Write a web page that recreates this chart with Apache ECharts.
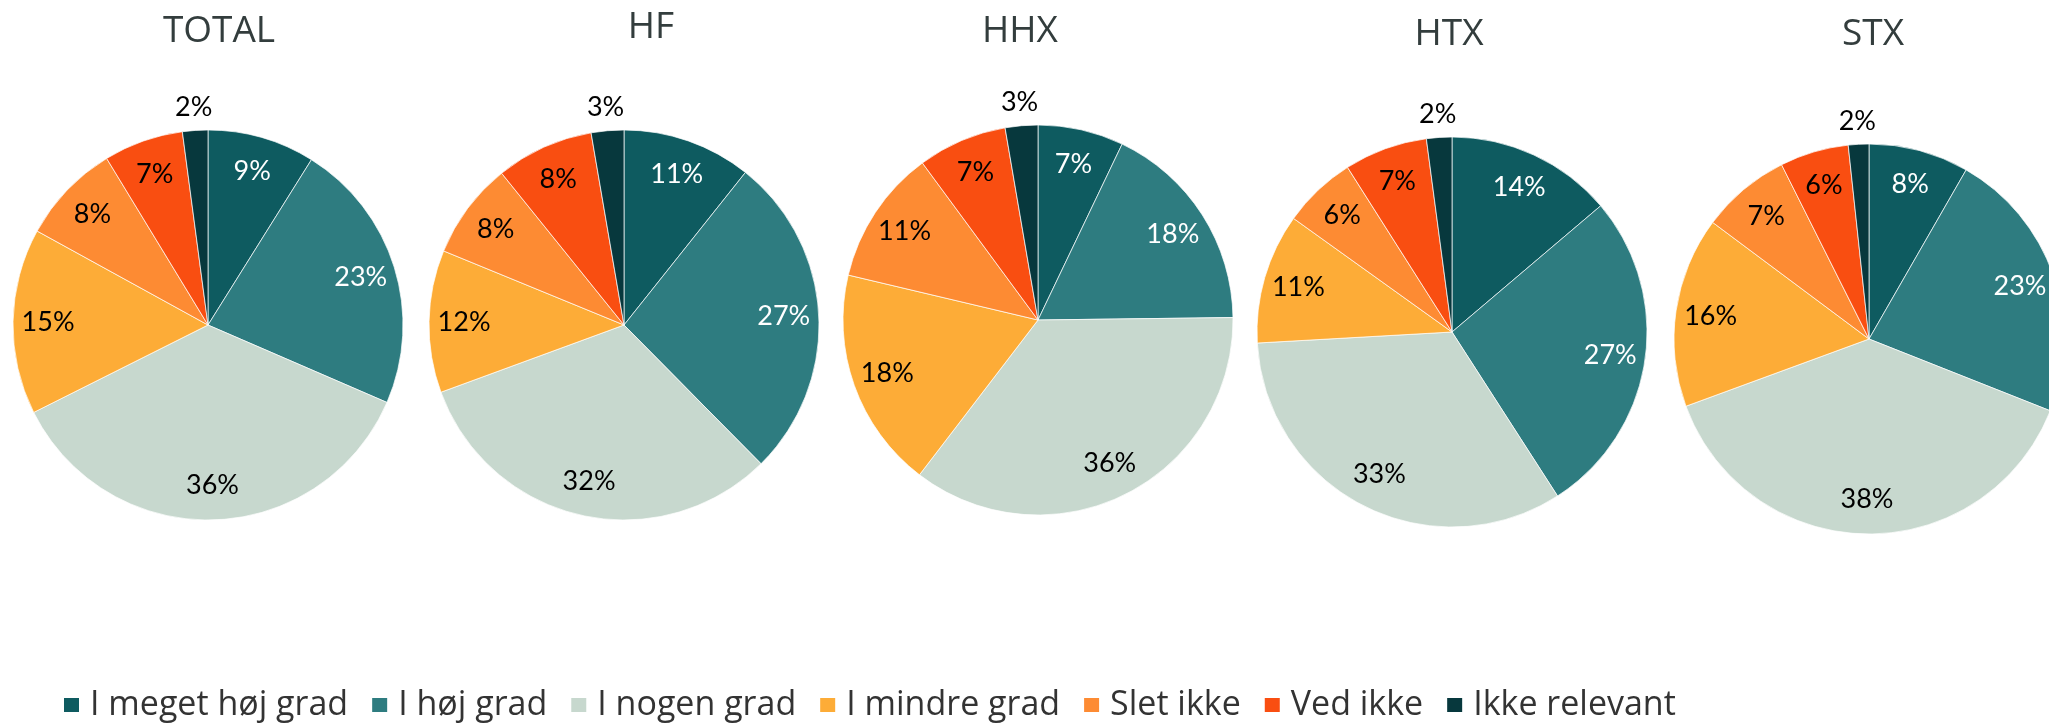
<!DOCTYPE html>
<html>
<head>
<meta charset="utf-8">
<script src="https://cdn.jsdelivr.net/npm/echarts@6/dist/echarts.min.js"></script>
<style>
html,body{margin:0;padding:0;background:#fff;overflow:hidden;}
#chart{width:2049px;height:724px;}
</style>
</head>
<body>
<div id="chart"></div>
<script>
// ---- data ----
const categories = ['I meget høj grad', 'I høj grad', 'I nogen grad', 'I mindre grad', 'Slet ikke', 'Ved ikke', 'Ikke relevant'];
const panels = ['TOTAL', 'HF', 'HHX', 'HTX', 'STX'];
const totalValues = [8.9, 22.6, 36.1, 15.4, 8.3, 6.6, 2.1];
const hfValues    = [10.7, 26.9, 31.8, 11.8, 8.0, 8.1, 2.7];
const hhxValues   = [7.1, 17.7, 35.6, 18.3, 11.2, 7.4, 2.7];
const htxValues   = [13.8, 27.1, 33.2, 10.8, 6.1, 6.9, 2.1];
const stxValues   = [8.3, 22.7, 38.4, 15.8, 7.4, 5.7, 1.7];
const panelValues = [totalValues, hfValues, hhxValues, htxValues, stxValues];

// ---- styling / layout ----
const colors = ['#0e5b60', '#2e7c80', '#c7d8ce', '#fdac37', '#fd8b33', '#f94e11', '#07383d'];
const labelColors = ['#ffffff', '#ffffff', '#000000', '#000000', '#000000', '#000000', '#000000'];
const centers = [[208, 325], [624, 325], [1038, 320], [1452, 332], [1869, 339]];
const titlePos = [[214, 32], [646, 28], [1015, 32], [1444, 35], [1868, 35]];
const R = 195;
const FONT = 'Lato, "Open Sans", sans-serif';
const FONT2 = '"Open Sans", Lato, sans-serif';

const fmt = p => Math.round(p.value) + '%';

const series = [];
panelValues.forEach((vals, pi) => {
  // main pie
  series.push({
    type: 'pie', name: panels[pi] + ' main',
    center: centers[pi], radius: [0, R],
    startAngle: 90, clockwise: true,
    silent: true, animation: false,
    label: { show: false }, labelLine: { show: false },
    itemStyle: { borderColor: '#ffffff', borderWidth: 0.7 },
    emphasis: { disabled: true },
    data: categories.map((c, i) => ({ name: c, value: vals[i], itemStyle: { color: colors[i] } }))
  });
});
panelValues.forEach((vals, pi) => {
  // inner labels ring
  series.push({
    type: 'pie', name: panels[pi] + ' labels',
    center: centers[pi], radius: [R * 0.61, R],
    startAngle: 90, clockwise: true,
    silent: true, animation: false, avoidLabelOverlap: false,
    itemStyle: { color: 'rgba(0,0,0,0)', borderWidth: 0 },
    labelLine: { show: false },
    emphasis: { disabled: true },
    data: categories.map((c, i) => ({
      name: c, value: vals[i],
      itemStyle: { color: 'rgba(0,0,0,0)' },
      label: {
        show: i !== categories.length - 1, position: 'inside', formatter: fmt,
        color: labelColors[i], fontSize: 27, fontFamily: FONT
      }
    }))
  });
  // outer label ring (smallest slice)
  series.push({
    type: 'pie', name: panels[pi] + ' outer',
    center: centers[pi], radius: [R, R + 40],
    startAngle: 90, clockwise: true,
    silent: true, animation: false, avoidLabelOverlap: false,
    itemStyle: { color: 'rgba(0,0,0,0)', borderWidth: 0 },
    labelLine: { show: false },
    emphasis: { disabled: true },
    data: categories.map((c, i) => ({
      name: c, value: vals[i],
      itemStyle: { color: 'rgba(0,0,0,0)' },
      label: {
        show: i === categories.length - 1, position: 'inside', formatter: fmt,
        color: labelColors[i], fontSize: 27, fontFamily: FONT
      }
    }))
  });
});

const option = {
  backgroundColor: '#ffffff',
  animation: false,
  title: panels.map((t, i) => ({
    text: t, left: titlePos[i][0], top: titlePos[i][1] - 24, textAlign: 'center',
    textStyle: { fontSize: 37, fontWeight: 'normal', color: '#333d3d', fontFamily: FONT2 }
  })),
  legend: {
    left: 57, top: 683, orient: 'horizontal',
    icon: 'rect', itemWidth: 17, itemHeight: 16, itemGap: 22,
    selectedMode: false,
    textStyle: { fontSize: 34, color: '#333333', fontFamily: FONT2, padding: [0, 0, 0, 5] },
    data: categories.map((c, i) => ({ name: c, itemStyle: { color: colors[i] } }))
  },
  series: series
};

const chart = echarts.init(document.getElementById('chart'), null, { renderer: 'canvas' });
chart.setOption(option);
</script>
</body>
</html>
